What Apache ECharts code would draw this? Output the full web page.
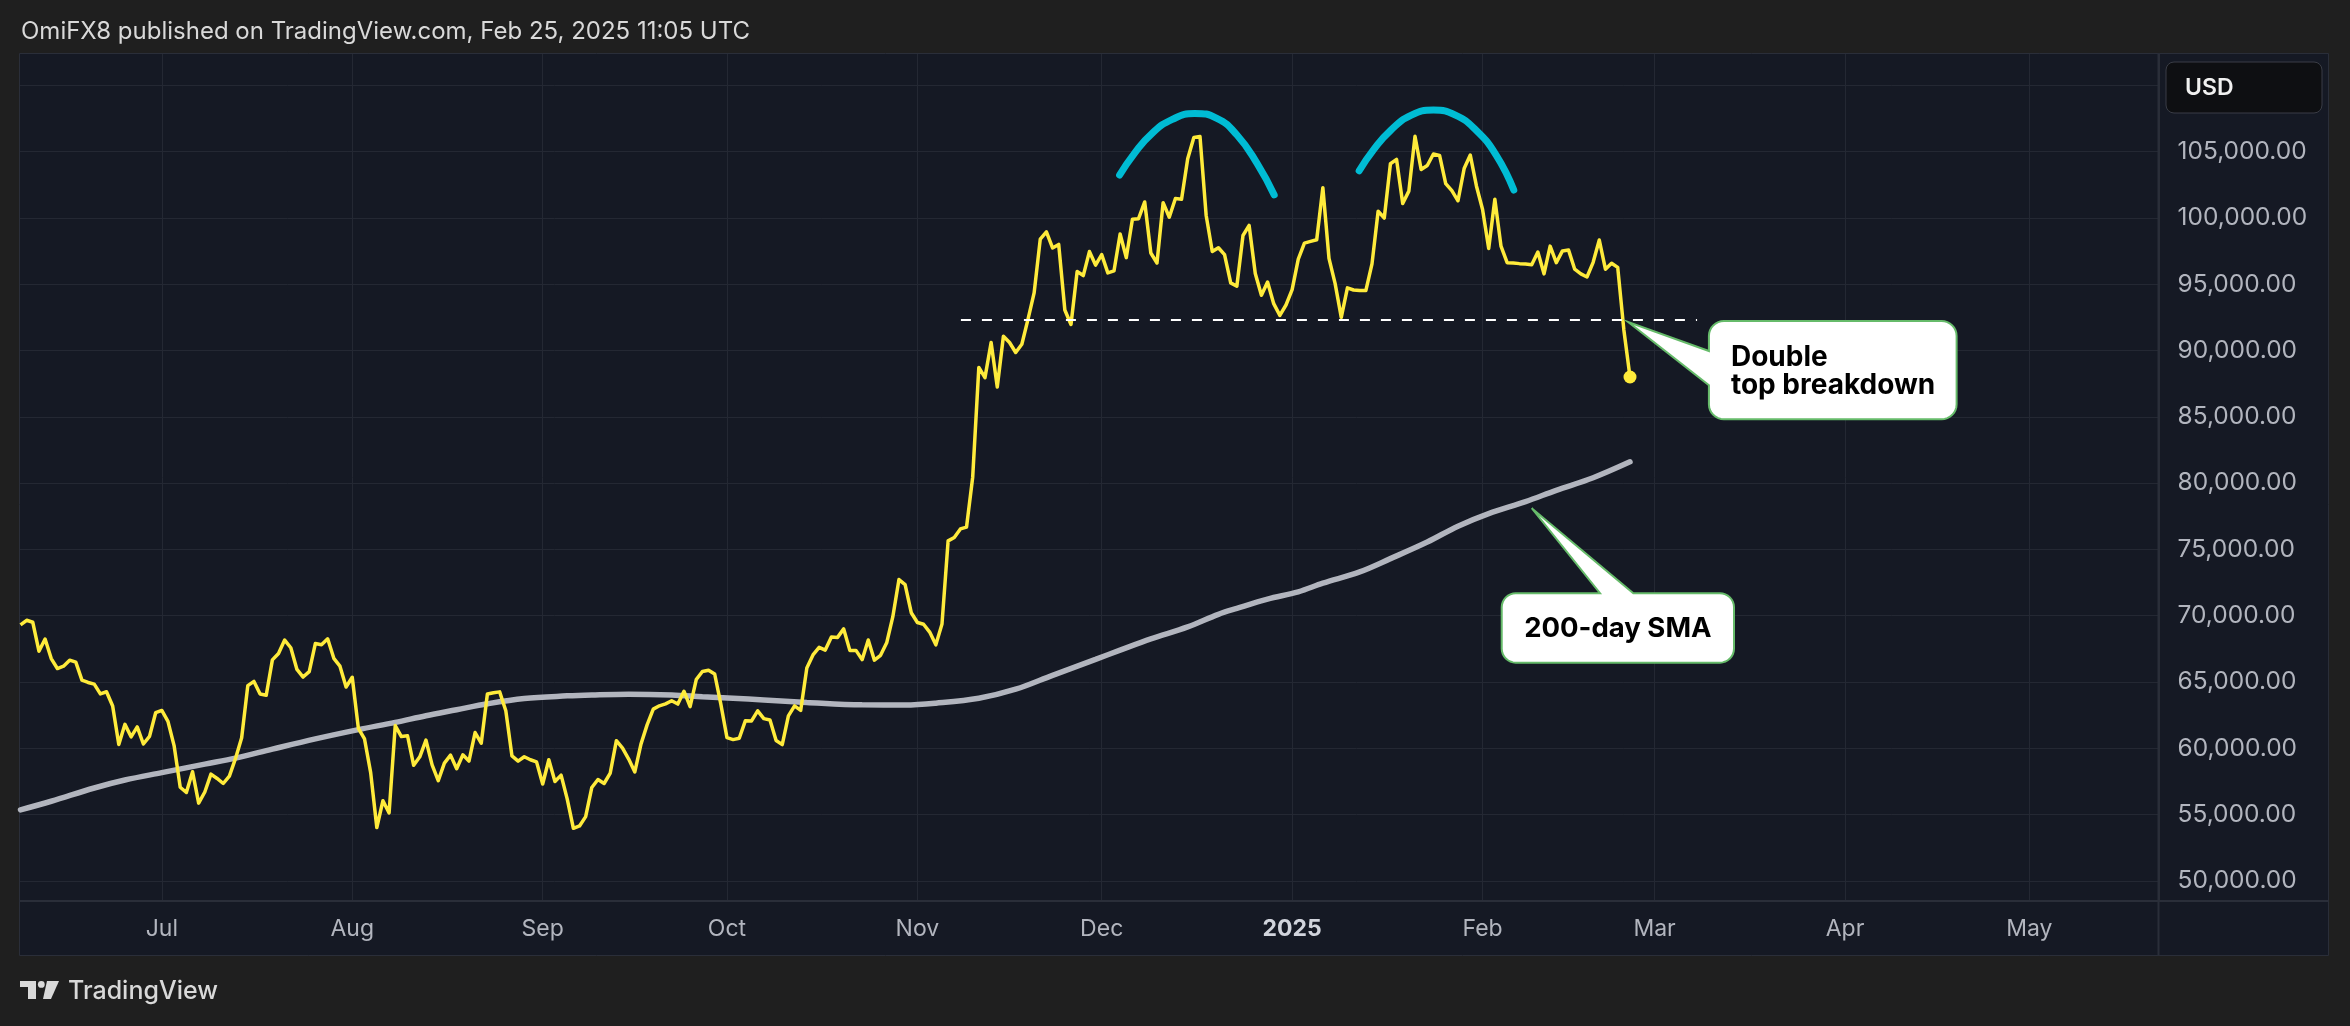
<!DOCTYPE html>
<html>
<head>
<meta charset="utf-8">
<script src="https://cdn.jsdelivr.net/npm/echarts@6/dist/echarts.min.js"></script>
<style>
html,body{margin:0;padding:0;background:#1f1f1f;}
#c{width:2350px;height:1026px;}
</style>
</head>
<body>
<div id="c"></div>
<script>
// ---------------- DATA ----------------
const START_DATE = '2024-06-08'; // first daily close (BTC trades every day)
const btcClose = [
  // Jun 8-30
  69300,69650,69500,67320,68240,66760,66010,66190,66640,66490,65140,64960,64830,64100,64260,63180,60280,61800,60860,61610,60320,60890,62680,
  // Jul
  62850,62030,60200,57060,56660,58230,55860,56700,58050,57720,57340,57900,59230,60790,64720,65040,64090,63990,66660,67150,68160,67580,65940,65370,65780,67900,67810,68250,66780,66190,64620,
  // Aug
  65350,61500,60700,58160,54020,56040,55120,61710,60880,60940,58710,59350,60610,58740,57560,58880,59480,58450,59500,59030,61180,60380,64090,64180,64250,62830,59420,59030,59360,59130,58970,
  // Sep
  57300,59130,57490,57970,56160,53960,54140,54840,57040,57640,57340,58130,60570,60010,59180,58210,60310,61760,62950,63200,63350,63580,63330,64300,63140,65180,65790,65880,65600,63330,
  // Oct
  60800,60650,60750,62080,62060,62820,62230,62130,60580,60270,62440,63190,62850,66050,67040,67610,67400,68390,68360,69000,67380,67380,66680,68160,66640,67010,67950,69920,72720,72340,70220,
  // Nov
  69480,69350,68760,67800,69360,75640,75900,76540,76680,80440,88720,87950,90600,87250,91070,90600,89850,90470,92340,94340,98400,98950,97730,98000,93050,91960,95950,95650,97460,96440,
  // Dec
  97230,95850,96000,98780,97000,99890,99940,101200,97350,96600,101150,100050,101460,101400,104460,106060,106140,100200,97460,97750,97230,95100,94850,98670,99430,95800,94160,95160,93530,92650,93430,
  // Jan 2025
  94590,96890,98100,98230,98350,102280,96950,95040,92500,94720,94560,94520,94520,96530,100500,99990,104080,104410,101090,102020,106150,103650,103950,104820,104710,102590,102060,101290,103720,104740,102410,
  // Feb 1-25
  100630,97690,101400,97870,96620,96600,96550,96530,96470,97420,95780,97870,96620,97510,97570,96130,95780,95540,96650,98330,96130,96580,96270,91550,88000
];

const smaDates = ['2024-06-08','2024-06-13','2024-06-20','2024-06-25','2024-07-01','2024-07-08','2024-07-13','2024-07-19','2024-07-26','2024-08-02','2024-08-08','2024-08-13','2024-08-18','2024-08-23','2024-08-29','2024-09-05','2024-09-09','2024-09-15','2024-09-22','2024-09-27','2024-10-02','2024-10-07','2024-10-14','2024-10-23','2024-10-30','2024-11-04','2024-11-11','2024-11-17','2024-11-23','2024-11-30','2024-12-04','2024-12-09','2024-12-15','2024-12-20','2024-12-23','2024-12-28','2025-01-02','2025-01-06','2025-01-12','2025-01-17','2025-01-23','2025-01-28','2025-02-02','2025-02-08','2025-02-13','2025-02-19','2025-02-25'];
const smaValues = [55350,56000,57000,57600,58160,58800,59250,59930,60700,61400,61950,62450,62900,63350,63750,63950,64020,64080,64020,63890,63770,63640,63450,63270,63260,63400,63770,64450,65500,66700,67400,68250,69150,70100,70550,71250,71800,72450,73300,74300,75550,76750,77700,78600,79450,80400,81600];

const monthTicks = ['2024-07-01','2024-08-01','2024-09-01','2024-10-01','2024-11-01','2024-12-01','2025-01-01','2025-02-01','2025-03-01','2025-04-01','2025-05-01'];
const monthLabels = ['Jul','Aug','Sep','Oct','Nov','Dec','2025','Feb','Mar','Apr','May'];
const priceTicks = [50000,55000,60000,65000,70000,75000,80000,85000,90000,95000,100000,105000];
const gridTicks = [50000,55000,60000,65000,70000,75000,80000,85000,90000,95000,100000,105000,110000];

const xRange = ['2024-06-07T22:00Z','2025-05-22T00:45Z'];
const yRange = [48477, 112361];

// annotations
const necklineLevel = 92300;
const necklineSpan = ['2024-11-08T02:00Z','2025-03-07T22:00Z'];
const arc1Dates = ['2024-12-03T22:00Z','2024-12-06T08:00Z','2024-12-09T05:00Z','2024-12-12T12:00Z','2024-12-16T03:00Z','2024-12-19T18:00Z','2024-12-23T00:30Z','2024-12-26T07:00Z','2024-12-29T02:00Z'];
const arc1Values = [103230,104870,106380,107430,107880,107510,106250,104110,101730];
const arc2Dates = ['2025-01-11T22:00Z','2025-01-14T05:00Z','2025-01-17T02:00Z','2025-01-20T10:00Z','2025-01-24T00:00Z','2025-01-27T14:00Z','2025-01-30T22:00Z','2025-02-03T05:00Z','2025-02-06T02:00Z'];
const arc2Values = [103550,105110,106620,107750,108130,107750,106620,104740,102100];
const callout1 = {text:'Double\ntop breakdown', anchor:['2025-02-24T17:00Z', 92150]};
const callout2 = {text:'200-day SMA', anchor:['2025-02-09T00:00Z', 78100]};

const headerText = 'OmiFX8 published on TradingView.com, Feb 25, 2025 11:05 UTC';

// ---------------- BUILD ----------------
const DAY = 86400000;
const T = s => Date.parse(s.length === 10 ? s + 'T00:00:00Z' : s);
const t0 = T(START_DATE);
const priceData = btcClose.map((v, i) => [t0 + i * DAY, v]);
const smaData = smaDates.map((d, i) => [T(d), smaValues[i]]);
const arc1Data = arc1Dates.map((d, i) => [T(d), arc1Values[i]]);
const arc2Data = arc2Dates.map((d, i) => [T(d), arc2Values[i]]);
const monthTs = monthTicks.map(T);
const lastPoint = priceData[priceData.length - 1];

const FONT = "Inter, 'Noto Sans', sans-serif";
const fmtPrice = v => v.toFixed(2).replace(/\B(?=(\d{3})+(?!\d))/g, ',');
const labelFor = v => {
  const i = monthTs.indexOf(v);
  if (i < 0) return '';
  return monthLabels[i] === '2025' ? '{yr|2025}' : monthLabels[i];
};

const chart = echarts.init(document.getElementById('c'), null, {renderer: 'canvas', width: 2350, height: 1026});

const option = {
  backgroundColor: '#1f1f1f',
  animation: false,
  grid: {left: 20, top: 54, width: 2138.5, height: 847, containLabel: false},
  xAxis: {
    type: 'value',
    min: T(xRange[0]), max: T(xRange[1]),
    axisLine: {show: true, lineStyle: {color: '#2a2e39', width: 2}},
    axisTick: {show: false, customValues: monthTs},
    axisLabel: {
      customValues: monthTs, formatter: labelFor, color: '#b2b5be', fontSize: 23, fontFamily: FONT, margin: 17,
      rich: {yr: {fontWeight: 'bold', color: '#d1d4dc', fontSize: 23, fontFamily: FONT}}
    },
    splitLine: {show: true, lineStyle: {color: '#242833', width: 1}}
  },
  yAxis: {
    type: 'value', position: 'right',
    min: yRange[0], max: yRange[1],
    axisLine: {show: true, lineStyle: {color: '#2a2e39', width: 2}},
    axisTick: {show: false, customValues: gridTicks},
    axisLabel: {customValues: priceTicks, formatter: fmtPrice, color: '#b2b5be', fontSize: 24.5, fontFamily: FONT, margin: 19, align: 'left'},
    splitLine: {show: true, lineStyle: {color: '#242833', width: 1}}
  },
  series: [
    {name: '200-day SMA', type: 'line', data: smaData, smooth: 0.35, showSymbol: false, silent: true, z: 2,
      lineStyle: {color: '#b2b5be', width: 5.5, cap: 'round'}},
    {name: 'BTCUSD', type: 'line', data: priceData, showSymbol: false, silent: true, z: 3,
      lineStyle: {color: '#ffeb3b', width: 3.5, join: 'round'}},
    {name: 'neckline', type: 'line', data: [[T(necklineSpan[0]), necklineLevel], [T(necklineSpan[1]), necklineLevel]],
      showSymbol: false, silent: true, z: 4, lineStyle: {color: '#ffffff', width: 2, type: [10, 11]}},
    {name: 'top1', type: 'line', data: arc1Data, smooth: 0.5, showSymbol: false, silent: true, z: 4,
      lineStyle: {color: '#00bcd4', width: 7, cap: 'round'}},
    {name: 'top2', type: 'line', data: arc2Data, smooth: 0.5, showSymbol: false, silent: true, z: 4,
      lineStyle: {color: '#00bcd4', width: 7, cap: 'round'}},
    {name: 'last', type: 'scatter', data: [lastPoint], symbolSize: 13, silent: true, z: 5,
      itemStyle: {color: '#ffeb3b', opacity: 1}}
  ]
};
chart.setOption(option);

// ---------------- DECORATION / CALLOUTS ----------------
function calloutPoints(x0, y0, x1, y1, r, notch) {
  const pts = [];
  const arc = (cx, cy, a0, a1) => {
    for (let k = 0; k <= 8; k++) {
      const a = (a0 + (a1 - a0) * k / 8) * Math.PI / 180;
      pts.push([cx + r * Math.cos(a), cy + r * Math.sin(a)]);
    }
  };
  arc(x0 + r, y0 + r, 180, 270);
  if (notch.side === 'top') pts.push([notch.a, y0], notch.tip, [notch.b, y0]);
  arc(x1 - r, y0 + r, 270, 360);
  arc(x1 - r, y1 - r, 0, 90);
  arc(x0 + r, y1 - r, 90, 180);
  if (notch.side === 'left') pts.push([x0, notch.b], notch.tip, [x0, notch.a]);
  return pts;
}

const p1 = chart.convertToPixel({gridIndex: 0}, [T(callout1.anchor[0]), callout1.anchor[1]]);
const p2 = chart.convertToPixel({gridIndex: 0}, [T(callout2.anchor[0]), callout2.anchor[1]]);

const c1 = {x0: p1[0] + 80.7, y0: p1[1] - 1, x1: p1[0] + 328.4, y1: p1[1] + 97.3};
const c2 = {x0: p2[0] - 30, y0: p2[1] + 85, x1: p2[0] + 202.3, y1: p2[1] + 154.4};

const GREEN = '#66bb6a';
const graphics = [
  {type: 'rect', z: -10, shape: {x: 19.5, y: 53.5, width: 2309, height: 902}, style: {fill: '#151924', stroke: '#2a2e39', lineWidth: 1}},
  {type: 'line', z: 10, shape: {x1: 19.5, y1: 901, x2: 2328.5, y2: 901}, style: {stroke: '#2a2e39', lineWidth: 2}},
  {type: 'line', z: 10, shape: {x1: 2158.5, y1: 53.5, x2: 2158.5, y2: 955.5}, style: {stroke: '#2a2e39', lineWidth: 2}},
  {type: 'rect', z: 10, shape: {x: 2166, y: 62, width: 156, height: 51, r: 8}, style: {fill: '#0e0f12', stroke: '#3a3d46', lineWidth: 1}},
  {type: 'text', z: 11, x: 2185, y: 88, style: {text: 'USD', fill: '#f0f0f0', font: '600 23px ' + FONT, verticalAlign: 'middle', textVerticalAlign: 'middle'}},
  {type: 'text', z: 10, x: 21, y: 32, style: {text: headerText, fill: '#d9d9d9', font: '24px ' + FONT, verticalAlign: 'middle', textVerticalAlign: 'middle'}},
  {type: 'polygon', z: 10, shape: {points: [[20, 981], [36, 981], [36, 999], [28, 999], [28, 987], [20, 987]]}, style: {fill: '#d9d9d9'}},
  {type: 'circle', z: 10, shape: {cx: 41.3, cy: 984.4, r: 3.4}, style: {fill: '#d9d9d9'}},
  {type: 'polygon', z: 10, shape: {points: [[47, 981], [59, 981], [51, 999], [43, 999]]}, style: {fill: '#d9d9d9'}},
  {type: 'text', z: 10, x: 68, y: 991, style: {text: 'TradingView', fill: '#d9d9d9', font: '500 25px ' + FONT, verticalAlign: 'middle', textVerticalAlign: 'middle'}},
  {type: 'polygon', z: 50, shape: {points: calloutPoints(c1.x0, c1.y0, c1.x1, c1.y1, 15, {side: 'left', a: p1[1] + 29, b: p1[1] + 63.3, tip: [p1[0], p1[1]]})},
    style: {fill: '#ffffff', stroke: GREEN, lineWidth: 2}},
  {type: 'text', z: 51, x: c1.x0 + 22, y: p1[1] + 49.5, style: {text: callout1.text, fill: '#000000', font: 'bold 28px ' + FONT, lineHeight: 27.7, verticalAlign: 'middle', textVerticalAlign: 'middle'}},
  {type: 'polygon', z: 50, shape: {points: calloutPoints(c2.x0, c2.y0, c2.x1, c2.y1, 14, {side: 'top', a: p2[0] + 68.3, b: p2[0] + 101.6, tip: [p2[0], p2[1]]})},
    style: {fill: '#ffffff', stroke: GREEN, lineWidth: 2}},
  {type: 'text', z: 51, x: (c2.x0 + c2.x1) / 2, y: p2[1] + 120.6, style: {text: callout2.text, fill: '#000000', font: 'bold 27.5px ' + FONT, align: 'center', textAlign: 'center', verticalAlign: 'middle', textVerticalAlign: 'middle'}}
];
chart.setOption({graphic: {elements: graphics}});
</script>
</body>
</html>
